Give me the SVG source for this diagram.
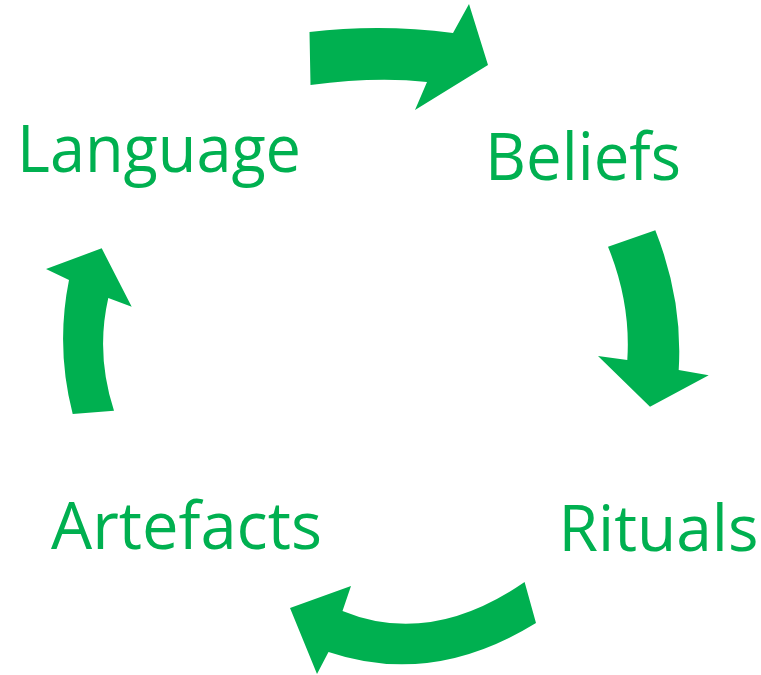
<svg xmlns="http://www.w3.org/2000/svg" width="761" height="675" viewBox="0 0 761 675">
<style>
text{font-family:"Open Sans","Noto Sans",sans-serif;fill:#00b050;font-size:66px}
.a{fill:#00b050}
</style>
<rect width="761" height="675" fill="#fff"/>
<g id="connectors">
<path class="a" d="M309.500 32Q381 23.500 453 33L469 4L488 65L415 110L427 82Q375 76.500 310.500 85Z"/>
<path class="a" d="M608 246.700L655.300 230.300Q683 300 678.700 370L708.700 375.300L650 406.700L598 356L627.300 360Q631 303 608 246.700Z"/>
<path class="a" d="M524.600 582L536 623Q432 687 328.500 652L317 674L290 608L351 586L342.500 611Q430 647 524.600 582Z"/>
<path class="a" d="M72.700 414L114 410.700Q95.500 354 108.300 298L131.700 306.700L101.700 248.300L46 269L69 280Q55.500 347 72.700 414Z"/>
</g>
<g id="language"><text x="17" y="171.500" textLength="284" lengthAdjust="spacingAndGlyphs">Language</text></g>
<g id="beliefs"><text x="485" y="179.500" textLength="196" lengthAdjust="spacingAndGlyphs">Beliefs</text></g>
<g id="rituals"><text x="558.500" y="551" style="font-size:64px">Rituals</text></g>
<g id="artefacts"><text x="51" y="549" textLength="271" lengthAdjust="spacingAndGlyphs">Artefacts</text></g>
</svg>
